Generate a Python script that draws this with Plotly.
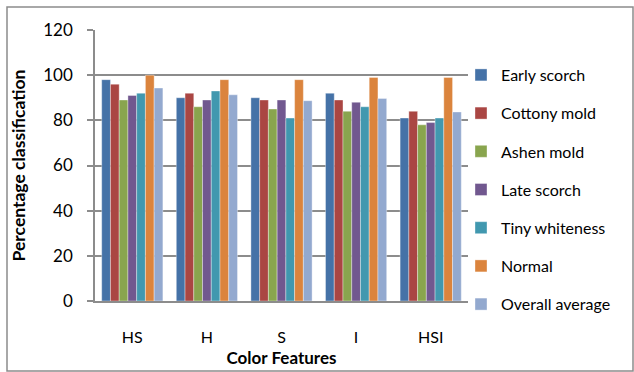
import plotly.graph_objects as go

categories = ["HS", "H", "S", "I", "HSI"]
early_scorch = [98, 90, 90, 92, 81]
cottony_mold = [96, 92, 89, 89, 84]
ashen_mold = [89, 86, 85, 84, 78]
late_scorch = [91, 89, 89, 88, 79]
tiny_whiteness = [92, 93, 81, 86, 81]
normal = [100, 98, 98, 99, 99]
overall_average = [94.3, 91.3, 88.7, 89.7, 83.7]

series_names = ["Early scorch", "Cottony mold", "Ashen mold", "Late scorch",
                "Tiny whiteness", "Normal", "Overall average"]
series_values = [early_scorch, cottony_mold, ashen_mold, late_scorch,
                 tiny_whiteness, normal, overall_average]
colors = ["#4572A7", "#AA4643", "#89A54E", "#71588F", "#4198AF", "#DB843D", "#93A9CF"]

FONT = "Lato, Open Sans, sans-serif"

fig = go.Figure()
for i, (name, vals, col) in enumerate(zip(series_names, series_values, colors)):
    fig.add_trace(go.Bar(
        x=categories, y=vals, name=name, legendgroup=f"g{i}",
        marker=dict(color=col, line=dict(color="rgba(255,255,255,0.6)", width=0.6)),
    ))

L, R, T, B = 95, 166, 30, 71
W, H = 634, 372
pw, ph = W - L - R, H - T - B

def px_x(x):
    return (x - L) / pw

def px_y(y):
    return (H - B - y) / ph

fig.update_layout(
    width=W, height=H,
    margin=dict(l=L, r=R, t=T, b=B, pad=0, autoexpand=False),
    paper_bgcolor="white", plot_bgcolor="white",
    barmode="group", bargap=0.18, bargroupgap=0,
    font=dict(family=FONT, size=16, color="#000000"),
    legend=dict(
        x=px_x(461), y=px_y(58), xanchor="left", yanchor="top",
        font=dict(size=16, family=FONT),
        tracegroupgap=14.4, itemwidth=30, bgcolor="rgba(0,0,0,0)",
    ),
    xaxis=dict(
        showline=True, linecolor="#8C8C8C", linewidth=1.5,
        ticks="", ticklabelstandoff=21,
        title=dict(text="<b>Color Features</b>", standoff=7, font=dict(size=17)),
        tickfont=dict(size=16),
    ),
    yaxis=dict(
        range=[0, 120], dtick=20,
        showline=True, linecolor="#8C8C8C", linewidth=1.5,
        showgrid=True, gridcolor="#8C8C8C", gridwidth=1.5,
        ticks="outside", ticklen=6, tickcolor="#8C8C8C", tickwidth=1.5,
        ticklabelstandoff=11,
        title=dict(text="<b>Percentage classification</b>", standoff=13, font=dict(size=17.5)),
        tickfont=dict(size=17),
        zeroline=False,
    ),
    shapes=[dict(type="rect", xref="paper", yref="paper",
                 x0=px_x(7), x1=px_x(633), y0=px_y(371), y1=px_y(7),
                 line=dict(color="#8C8C8C", width=1.5), fillcolor="rgba(0,0,0,0)",
                 layer="below")],
)

fig.write_html("out.html", config={"displayModeBar": False},
               post_script="document.body.style.margin='0';document.body.style.overflow='hidden';")
